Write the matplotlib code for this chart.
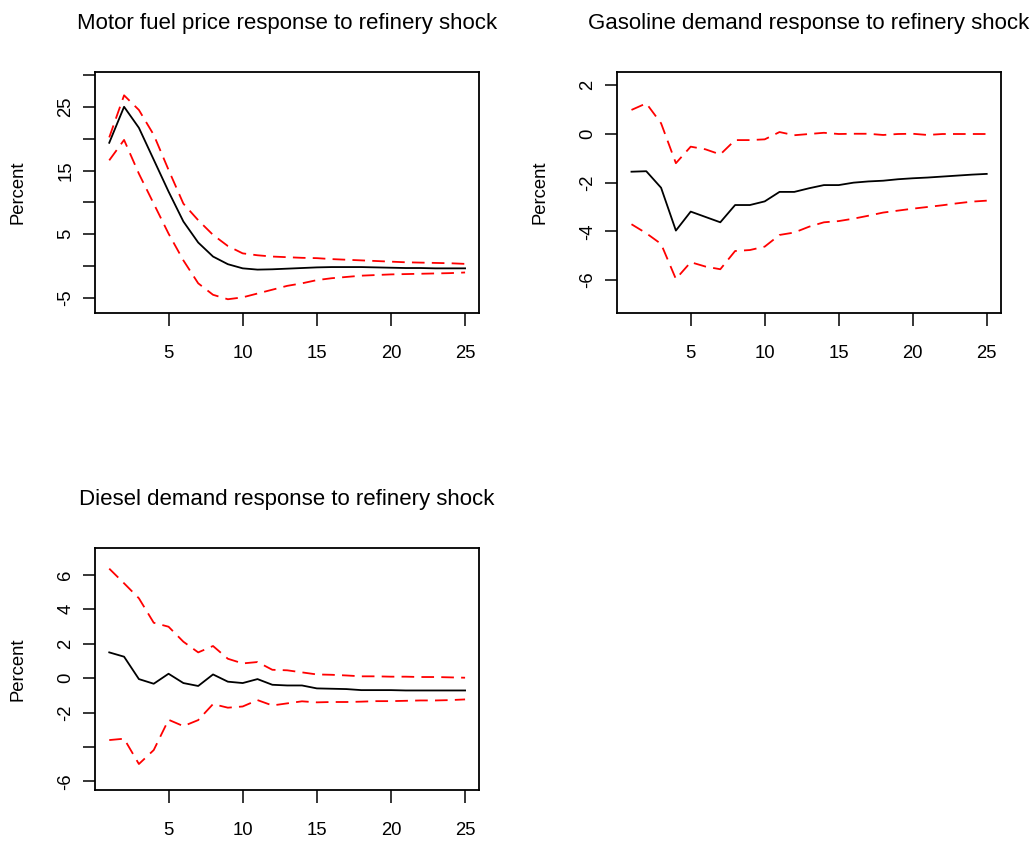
import matplotlib
matplotlib.use("Agg")
import matplotlib.pyplot as plt

plt.rcParams["font.family"] = ["Liberation Sans", "DejaVu Sans"]

horizon = list(range(1, 26))

# motor fuel price: impulse response with lower / upper bands
price_irf = [19.35, 25.0, 21.7, 16.7, 11.7, 7.0, 3.7, 1.5, 0.3, -0.35, -0.55, -0.5,
             -0.4, -0.3, -0.2, -0.15, -0.15, -0.15, -0.2, -0.25, -0.3, -0.3, -0.35,
             -0.35, -0.35]
price_hi = [20.2, 26.8, 24.5, 20.6, 15.1, 9.8, 7.2, 4.9, 3.15, 2.0, 1.7, 1.5, 1.4,
            1.3, 1.25, 1.1, 1.0, 0.9, 0.8, 0.7, 0.6, 0.55, 0.5, 0.45, 0.35]
price_lo = [16.6, 19.8, 14.5, 9.8, 5.1, 0.9, -2.7, -4.5, -5.2, -4.9, -4.3, -3.7,
            -3.1, -2.7, -2.2, -1.9, -1.7, -1.5, -1.4, -1.3, -1.25, -1.2, -1.15,
            -1.1, -1.0]

# gasoline demand
gas_irf = [-1.55, -1.53, -2.21, -3.97, -3.19, -3.41, -3.63, -2.92, -2.92, -2.77,
           -2.38, -2.38, -2.23, -2.1, -2.1, -2.0, -1.95, -1.92, -1.86, -1.82, -1.79,
           -1.75, -1.71, -1.67, -1.64]
gas_hi = [0.99, 1.26, 0.44, -1.2, -0.52, -0.63, -0.84, -0.25, -0.25, -0.22, 0.08,
          -0.05, 0.0, 0.05, 0.0, 0.01, 0.01, -0.04, 0.0, 0.01, -0.04, 0.0, 0.0,
          0.0, 0.0]
gas_lo = [-3.71, -4.08, -4.52, -5.96, -5.27, -5.45, -5.56, -4.81, -4.77, -4.63,
          -4.15, -4.05, -3.81, -3.63, -3.58, -3.48, -3.36, -3.23, -3.15, -3.07,
          -3.0, -2.93, -2.85, -2.78, -2.74]

# diesel demand
diesel_irf = [1.49, 1.24, -0.06, -0.33, 0.25, -0.29, -0.46, 0.21, -0.21, -0.29,
              -0.06, -0.39, -0.43, -0.43, -0.6, -0.62, -0.64, -0.7, -0.7, -0.7,
              -0.72, -0.72, -0.72, -0.72, -0.72]
diesel_hi = [6.35, 5.5, 4.63, 3.21, 2.98, 2.11, 1.49, 1.86, 1.12, 0.85, 0.93, 0.48,
             0.45, 0.33, 0.21, 0.19, 0.15, 0.1, 0.1, 0.08, 0.08, 0.06, 0.06, 0.04,
             0.02]
diesel_lo = [-3.6, -3.52, -4.99, -4.18, -2.42, -2.79, -2.44, -1.51, -1.72, -1.65,
             -1.28, -1.59, -1.47, -1.35, -1.41, -1.39, -1.39, -1.37, -1.34, -1.34,
             -1.32, -1.3, -1.3, -1.28, -1.24]

panels = [
    ("Motor fuel price response to refinery shock", price_irf, price_lo, price_hi,
     (-7.4, 30.5), [-5, 0, 5, 10, 15, 20, 25, 30], ["-5", "", "5", "", "15", "", "25", ""]),
    ("Gasoline demand response to refinery shock", gas_irf, gas_lo, gas_hi,
     (-7.37, 2.56), [-6, -4, -2, 0, 2], ["-6", "-4", "-2", "0", "2"]),
    ("Diesel demand response to refinery shock", diesel_irf, diesel_lo, diesel_hi,
     (-6.5, 7.53), [-6, -4, -2, 0, 2, 4, 6], ["-6", "", "-2", "0", "2", "4", "6"]),
]
x_ticks = [5, 10, 15, 20, 25]

# axes boxes in figure fractions (left, bottom, width, height)
boxes = [
    [0.0918, 0.6275, 0.3713, 0.2872],
    [0.5964, 0.6275, 0.3707, 0.2872],
    [0.0918, 0.0606, 0.3713, 0.2874],
]

fig = plt.figure(figsize=(10.35, 8.41), dpi=100)
fig.patch.set_facecolor("white")

for box, (title, irf, lo, hi, ylim, yt, ylab) in zip(boxes, panels):
    ax = fig.add_axes(box)
    ax.plot(horizon, irf, color="black", lw=1.3)
    ax.plot(horizon, lo, color="red", lw=1.3, ls=(0, (7, 4)))
    ax.plot(horizon, hi, color="red", lw=1.3, ls=(0, (7, 4)))
    ax.set_xlim(0.04, 25.96)
    ax.set_ylim(*ylim)
    ax.set_xticks(x_ticks)
    ax.set_xticklabels([str(t) for t in x_ticks])
    ax.set_yticks(yt)
    ax.set_yticklabels(ylab, rotation=90, va="center")
    ax.tick_params(direction="out", length=9, width=1.1, labelsize=13.3,
                   colors="black")
    ax.tick_params(axis="x", pad=14)
    ax.tick_params(axis="y", pad=6)
    for spine in ax.spines.values():
        spine.set_linewidth(1.3)
    ax.set_title(title, fontsize=16, pad=31)
    ax.set_ylabel("Percent", fontsize=13.3)
    ax.yaxis.set_label_coords(-0.178, 0.5)

fig.savefig("out.png", dpi=100, facecolor="white")
